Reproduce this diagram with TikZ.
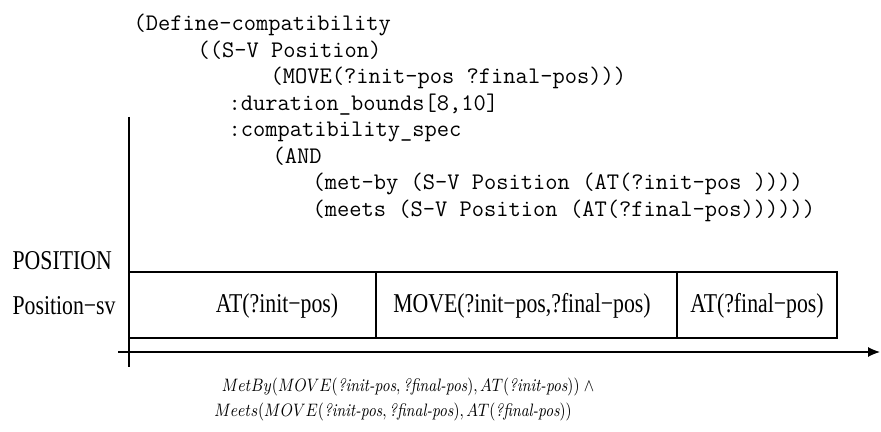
\documentclass[tikz,border=0pt]{standalone}
\usepackage{fontspec}
\newfontfamily\timesfont[FakeStretch=0.8]{Liberation Serif}
\usepackage{graphicx}
\usepackage{tikz}
\usetikzlibrary{arrows.meta}
\tikzset{>=latex}
\tikzset{
  codeline/.style={anchor=base west, inner sep=0pt, font=\fontsize{11.9}{13}\selectfont\ttfamily},
  tllabel/.style={inner sep=0pt, font=\fontsize{13.6}{15}\selectfont\timesfont},
  formula/.style={inner sep=0pt, font=\fontsize{9}{11}\selectfont},
}
\newcommand{\narrow}[1]{\scalebox{0.84}[1]{#1}}

\begin{document}
\begin{tikzpicture}[x=0.5pt,y=-0.5pt,line width=0.6pt]
    \useasboundingbox (0,0) rectangle (881,432);
    % the compatibility definition
    \node[codeline] (def)    at (133,31)    {(Define-compatibility};
    \node[codeline] (sv)     at (197,57.5)  {((S-V Position)};
    \node[codeline] (move)   at (270,84)    {(MOVE(?init-pos ?final-pos)))};
    \node[codeline] (dur)    at (228,110.5) {:duration\_bounds[8,10]};
    \node[codeline] (spec)   at (228,137)   {:compatibility\_spec};
    \node[codeline] (and)    at (272,163.5) {(AND};
    \node[codeline] (metby)  at (312,190)   {(met-by (S-V Position (AT(?init-pos ))))};
    \node[codeline] (meets)  at (312,216.5) {(meets (S-V Position (AT(?final-pos))))))};
    % timeline axes
    \coordinate (vtop) at (129,117);
    \coordinate (vbot) at (129,367);
    \coordinate (hstart) at (118,352);
    \coordinate (hend) at (880,352);
    \draw (vtop) -- (vbot);
    \draw[-{Latex[length=6pt,width=5pt]}] (hstart) -- (hend);
    % state variable row
    \draw (129,272) rectangle (837,338);
    \draw (376,272) -- (376,338);
    \draw (677,272) -- (677,338);
    \node[tllabel, anchor=west] (pos) at (12,261) {POSITION};
    \node[tllabel, anchor=west] (possv) at (12,306) {Position−sv};
    \node[tllabel] (atinit) at (277,306) {AT(?init−pos)};
    \node[tllabel] (mv) at (522,306) {MOVE(?init−pos,?final−pos)};
    \node[tllabel] (atfinal) at (757,306) {AT(?final−pos)};
    % temporal relations
    \node[formula] (rel1) at (408,387) {\narrow{$MetBy(MOVE(\textit{?init-pos}, \textit{?final-pos}), AT(\textit{?init-pos}))\;\wedge$}};
    \node[formula] (rel2) at (393,412) {\narrow{$Meets(MOVE(\textit{?init-pos}, \textit{?final-pos}), AT(\textit{?final-pos}))$}};
\end{tikzpicture}
\end{document}
